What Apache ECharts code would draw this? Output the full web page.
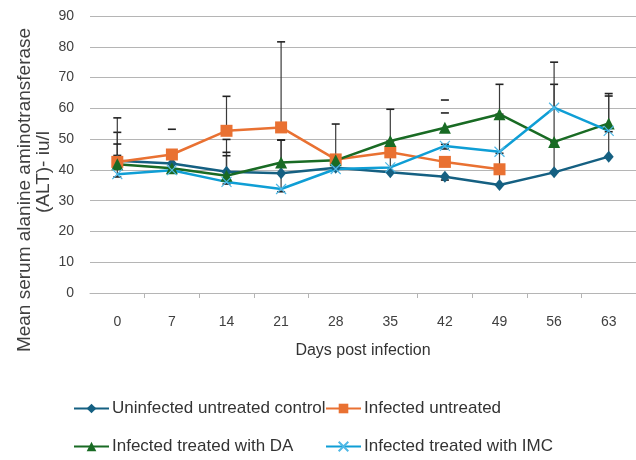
<!DOCTYPE html>
<html>
<head>
<meta charset="utf-8">
<script src="https://cdn.jsdelivr.net/npm/echarts@6/dist/echarts.min.js"></script>
<style>
  html, body { margin: 0; padding: 0; background: #ffffff; }
  #chart { width: 636px; height: 460px; }
</style>
</head>
<body>
<div id="chart"></div>
<script>
// ---- Data ----
const days = ['0', '7', '14', '21', '28', '35', '42', '49', '56', '63'];

const seriesNames = [
  'Uninfected untreated control',
  'Infected untreated',
  'Infected treated with DA',
  'Infected treated with IMC'
];

const controlVals   = [43.0, 42.1, 39.4, 38.9, 40.7, 39.2, 37.8, 35.1, 39.2, 44.3];
const untreatedVals = [42.6, 45.0, 52.7, 53.8, 43.4, 45.7, 42.6, 40.2, null, null];
const daVals        = [41.8, 40.5, 38.1, 42.4, 43.1, 49.4, 53.7, 58.1, 49.1, 55.1];
const imcVals       = [38.6, 39.9, 36.1, 33.8, 40.3, 40.8, 47.8, 45.9, 60.2, 52.7];

// error bar ends (absolute values), null where no bar
const controlErrUp    = [52.2, null, 49.9, 49.7, null, 45.7, null, 45.4, 49.1, 52.4];
const controlErrDown  = [null, null, null, null, null, null, 36.7, null, null, null];
const untreatedErrUp  = [56.9, null, 63.9, 81.6, null, 49.4, null, null, null, null];
const daErrUp         = [48.4, null, 45.7, 49.7, 54.9, 59.7, null, 67.8, 67.8, 64.8];
const imcErrUp        = [44.7, null, 44.6, 38.9, null, null, 48.3, 58.1, 75.0, 64.0];
const imcErrDown      = [37.7, null, 35.4, 32.9, null, null, 46.8, null, null, null];

// isolated error caps visible without a stem
const strayCapDays = [1, 6, 6];
const strayCapVals = [53.2, 62.7, 58.5];

const yTicks = { min: 0, max: 90, interval: 10 };

// ---- Build error-bar items ----
function errItems(vals, ends) {
  const out = [];
  ends.forEach(function (e, i) {
    if (e !== null && vals[i] !== null) out.push([i, vals[i], e]);
  });
  return out;
}
let errData = []
  .concat(errItems(controlVals, controlErrUp))
  .concat(errItems(controlVals, controlErrDown))
  .concat(errItems(untreatedVals, untreatedErrUp))
  .concat(errItems(daVals, daErrUp))
  .concat(errItems(imcVals, imcErrUp))
  .concat(errItems(imcVals, imcErrDown));
strayCapDays.forEach(function (d, k) {
  errData.push([d, strayCapVals[k], strayCapVals[k]]);
});

const FONT = "'Liberation Sans', Arial, sans-serif";
const colors = ['#156082', '#E97132', '#196B24', '#0F9ED5'];

const chart = echarts.init(document.getElementById('chart'), null, { renderer: 'canvas' });

const legendCommon = {
  orient: 'vertical',
  top: 400,
  height: 60,
  padding: 0,
  itemWidth: 35, itemHeight: 12, itemGap: 21,
  textStyle: { fontSize: 17, color: '#333333', fontFamily: FONT, padding: [0, 0, 0, -2] }
};

chart.setOption({
  animation: false,
  textStyle: { fontFamily: FONT },
  color: colors,
  grid: { left: 90, right: 0, top: 16, bottom: 167, containLabel: false },
  legend: [
    Object.assign({}, legendCommon, { data: [seriesNames[0], seriesNames[2]], left: 73 }),
    Object.assign({}, legendCommon, { data: [seriesNames[1], seriesNames[3]], left: 325 })
  ],
  xAxis: {
    type: 'category',
    data: days,
    boundaryGap: true,
    name: 'Days post infection',
    nameLocation: 'middle',
    nameGap: 50,
    nameTextStyle: { fontSize: 16, color: '#333333', fontFamily: FONT },
    axisLine: { lineStyle: { color: '#b5b5b5', width: 1 } },
    axisTick: {
      show: true, length: 5,
      lineStyle: { color: '#b5b5b5' },
      interval: function (index) { return index !== 0 && index !== 5; }
    },
    axisLabel: { fontSize: 14, color: '#404040', margin: 22, fontFamily: FONT },
    splitLine: { show: false }
  },
  yAxis: {
    type: 'value',
    min: yTicks.min, max: yTicks.max, interval: yTicks.interval,
    axisLine: { show: false },
    axisTick: { show: false },
    axisLabel: { fontSize: 14, color: '#404040', margin: 16, fontFamily: FONT },
    splitLine: { lineStyle: { color: '#b5b5b5', width: 1 } }
  },
  graphic: [
    {
      type: 'text',
      x: 25, y: 190, rotation: Math.PI / 2,
      style: {
        text: 'Mean serum alanine aminotransferase',
        fontSize: 19, fontFamily: FONT, fill: '#404040',
        textAlign: 'center', textVerticalAlign: 'middle'
      }
    },
    {
      type: 'text',
      x: 44, y: 172, rotation: Math.PI / 2,
      style: {
        text: '(ALT)- iu/l',
        fontSize: 19, fontFamily: FONT, fill: '#404040',
        textAlign: 'center', textVerticalAlign: 'middle'
      }
    }
  ],
  series: [
    {
      name: 'errorbars',
      type: 'custom',
      z: 1,
      data: errData,
      encode: { x: 0, y: [1, 2] },
      renderItem: function (params, api) {
        const i = api.value(0);
        const p1 = api.coord([i, api.value(1)]);
        const p2 = api.coord([i, api.value(2)]);
        const h = 4;
        return {
          type: 'group',
          children: [
            { type: 'line', shape: { x1: p1[0], y1: p1[1], x2: p2[0], y2: p2[1] },
              style: { stroke: '#3a3a3a', lineWidth: 1.2 } },
            { type: 'line', shape: { x1: p2[0] - h, y1: p2[1], x2: p2[0] + h, y2: p2[1] },
              style: { stroke: '#222222', lineWidth: 1.6 } }
          ]
        };
      }
    },
    {
      name: seriesNames[0], type: 'line', z: 3, data: controlVals,
      symbol: 'diamond', symbolSize: [10, 12],
      lineStyle: { width: 2.5, color: colors[0] },
      itemStyle: { color: colors[0] }
    },
    {
      name: seriesNames[1], type: 'line', z: 3, data: untreatedVals,
      symbol: 'rect', symbolSize: 12,
      lineStyle: { width: 2.5, color: colors[1] },
      itemStyle: { color: colors[1] }
    },
    {
      name: seriesNames[2], type: 'line', z: 3, data: daVals,
      symbol: 'triangle', symbolSize: 12,
      lineStyle: { width: 2.5, color: colors[2] },
      itemStyle: { color: colors[2] }
    },
    {
      name: seriesNames[3], type: 'line', z: 3, data: imcVals,
      symbol: 'path://M0,0L10,10M0,10L10,0', symbolSize: 10,
      lineStyle: { width: 2.5, color: colors[3] },
      itemStyle: { color: colors[3], borderColor: '#4fb8e6', borderWidth: 1.2 }
    }
  ]
});
</script>
</body>
</html>
